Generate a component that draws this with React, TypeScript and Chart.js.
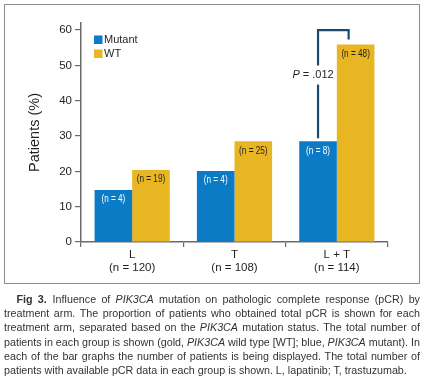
import React, { useEffect, useRef } from "react";
import { Chart, registerables } from "chart.js";

Chart.register(...registerables);

const categories: string[][] = [["L", "(n = 120)"], ["T", "(n = 108)"], ["L + T", "(n = 114)"]];
const seriesNames = ["Mutant", "WT"];
const mutantValues = [14.7, 20.1, 28.5];
const wtValues = [20.4, 28.5, 55.9];
const mutantCounts = ["(n = 4)", "(n = 4)", "(n = 8)"];
const wtCounts = ["(n = 19)", "(n = 25)", "(n = 48)"];
const yTickValues = [0, 10, 20, 30, 40, 50, 60];
const pValueLabel = ["P", " = .012"];
const pBracketTop = 60;
const pTextValue = 47.4;

const BLUE = "#0a7bc4";
const GOLD = "#e8b622";
const NAVY = "#1b4a73";
const TEXT = "#231f20";
const AXIS = "#6b6b6b";
const SANS = "'Liberation Sans', Arial, Helvetica, sans-serif";
const CAPTION_SCALE = 0.975;

const captionLines: React.ReactNode[] = [
  <>
    <b style={{ marginLeft: 12.5 / CAPTION_SCALE, marginRight: 6 }}>Fig 3.</b>Influence of <i>PIK3CA</i> mutation on pathologic complete response (pCR) by
  </>,
  <>treatment arm. The proportion of patients who obtained total pCR is shown for each</>,
  <>
    treatment arm, separated based on the <i>PIK3CA</i> mutation status. The total number of
  </>,
  <>
    patients in each group is shown (gold, <i>PIK3CA</i> wild type [WT]; blue, <i>PIK3CA</i> mutant). In
  </>,
  <>each of the bar graphs the number of patients is being displayed. The total number of</>,
  <>patients with available pCR data in each group is shown. L, lapatinib; T, trastuzumab.</>,
];

const annotationPlugin = {
  id: "annotations",
  afterDatasetsDraw(chart: any) {
    const ctx = chart.ctx as CanvasRenderingContext2D;
    const area = chart.chartArea;
    const yScale = chart.scales.y;
    const countSets = [mutantCounts, wtCounts];
    const colors = [BLUE, GOLD];
    ctx.save();
    // bar count labels (condensed)
    chart.data.datasets.forEach((_: any, di: number) => {
      const meta = chart.getDatasetMeta(di);
      meta.data.forEach((bar: any, i: number) => {
        ctx.save();
        ctx.translate(bar.x, bar.y + 9.5);
        ctx.scale(0.82, 1);
        ctx.font = `10px ${SANS}`;
        ctx.fillStyle = di === 0 ? "#ffffff" : TEXT;
        ctx.textAlign = "center";
        ctx.textBaseline = "middle";
        ctx.fillText(countSets[di][i], 0, 0);
        ctx.restore();
      });
    });
    // legend
    seriesNames.forEach((name, i) => {
      const x = area.left + 13;
      const y = area.top + 12.5 + i * 14;
      ctx.fillStyle = colors[i];
      ctx.fillRect(x, y, 8.5, 8.5);
      ctx.fillStyle = TEXT;
      ctx.font = `11px ${SANS}`;
      ctx.textAlign = "left";
      ctx.textBaseline = "middle";
      ctx.fillText(name, x + 10, y + 4.5);
    });
    // significance bracket
    const mBar: any = chart.getDatasetMeta(0).data[2];
    const wBar: any = chart.getDatasetMeta(1).data[2];
    const topY = yScale.getPixelForValue(pBracketTop);
    const textY = yScale.getPixelForValue(pTextValue);
    const leftX = mBar.x;
    const rightX = wBar.x - 7;
    ctx.strokeStyle = NAVY;
    ctx.lineWidth = 2.2;
    ctx.lineCap = "butt";
    ctx.lineJoin = "miter";
    ctx.beginPath();
    ctx.moveTo(leftX, mBar.y - 3);
    ctx.lineTo(leftX, textY + 10);
    ctx.stroke();
    ctx.beginPath();
    ctx.moveTo(leftX, textY - 9);
    ctx.lineTo(leftX, topY);
    ctx.lineTo(rightX, topY);
    ctx.lineTo(rightX, wBar.y - 5);
    ctx.stroke();
    // p value text
    ctx.font = `italic 11px ${SANS}`;
    const pW = ctx.measureText(pValueLabel[0]).width;
    ctx.font = `11px ${SANS}`;
    const restW = ctx.measureText(pValueLabel[1]).width;
    const startX = leftX - 5 - (pW + restW) / 2;
    ctx.fillStyle = TEXT;
    ctx.textAlign = "left";
    ctx.textBaseline = "middle";
    ctx.font = `italic 11px ${SANS}`;
    ctx.fillText(pValueLabel[0], startX, textY);
    ctx.font = `11px ${SANS}`;
    ctx.fillText(pValueLabel[1], startX + pW, textY);
    ctx.restore();
  },
};

function App() {
  const canvasRef = useRef<HTMLCanvasElement | null>(null);

  useEffect(() => {
    if (!canvasRef.current) return;
    const chart = new Chart(canvasRef.current, {
      type: "bar",
      data: {
        labels: categories,
        datasets: [
          {
            label: seriesNames[0],
            data: mutantValues,
            backgroundColor: BLUE,
            categoryPercentage: 0.735,
            barPercentage: 1.0,
          },
          {
            label: seriesNames[1],
            data: wtValues,
            backgroundColor: GOLD,
            categoryPercentage: 0.735,
            barPercentage: 1.0,
          },
        ],
      },
      options: {
        animation: false,
        responsive: false,
        maintainAspectRatio: false,
        layout: { padding: { top: 23, right: 36, left: 0, bottom: 0 } },
        plugins: {
          legend: { display: false },
          tooltip: { enabled: false },
        },
        scales: {
          x: {
            afterFit: (scale: any) => {
              scale.height = 46;
            },
            grid: {
              display: true,
              drawOnChartArea: false,
              offset: true,
              tickLength: 5,
              color: AXIS,
              lineWidth: 1.2,
            },
            border: { display: true, color: AXIS, width: 1.5 },
            ticks: {
              color: TEXT,
              font: { family: SANS, size: 11.5, lineHeight: 1.15 },
              padding: 1,
              maxRotation: 0,
            },
          },
          y: {
            min: 0,
            max: 62,
            afterFit: (scale: any) => {
              scale.width = 81;
            },
            afterBuildTicks: (scale: any) => {
              scale.ticks = yTickValues.map((v) => ({ value: v }));
            },
            grid: {
              display: true,
              drawOnChartArea: false,
              tickLength: 6,
              color: AXIS,
              lineWidth: 1.2,
            },
            border: { display: true, color: AXIS, width: 1.5 },
            ticks: {
              color: TEXT,
              font: { family: SANS, size: 11.5 },
              padding: 3,
            },
            title: {
              display: true,
              text: "Patients (%)",
              color: TEXT,
              font: { family: SANS, size: 14.5, lineHeight: 1.2 },
              padding: { top: 26, bottom: 0 },
            },
          },
        },
      },
      plugins: [annotationPlugin],
    });
    return () => chart.destroy();
  }, []);

  return (
    <div
      style={{
        position: "fixed",
        left: 0,
        top: 0,
        width: 424,
        height: 385,
        background: "#ffffff",
        overflow: "hidden",
      }}
    >
      <canvas
        ref={canvasRef}
        width={424}
        height={288}
        style={{ position: "absolute", left: 0, top: 0, width: 424, height: 288 }}
      />
      <div
        style={{
          position: "absolute",
          left: 3.5,
          top: 3.5,
          width: 414,
          height: 278,
          border: "1.5px solid #8c8c8c",
          pointerEvents: "none",
        }}
      />
      <div
        style={{
          position: "absolute",
          left: 4,
          top: 292,
          width: 416 / CAPTION_SCALE,
          transform: `scaleX(${CAPTION_SCALE})`,
          transformOrigin: "0 0",
          fontFamily: SANS,
          fontSize: 11,
          lineHeight: "14.2px",
          color: "#333333",
        }}
      >
        {captionLines.map((line, i) => (
          <div
            key={i}
            style={{
              textAlign: i === captionLines.length - 1 ? "left" : "justify",
              textAlignLast: i === captionLines.length - 1 ? "left" : "justify",
              whiteSpace: "nowrap",
              wordSpacing: i === 3 ? -1.5 : 0,
            }}
          >
            {line}
          </div>
        ))}
      </div>
    </div>
  );
}

export default App;
